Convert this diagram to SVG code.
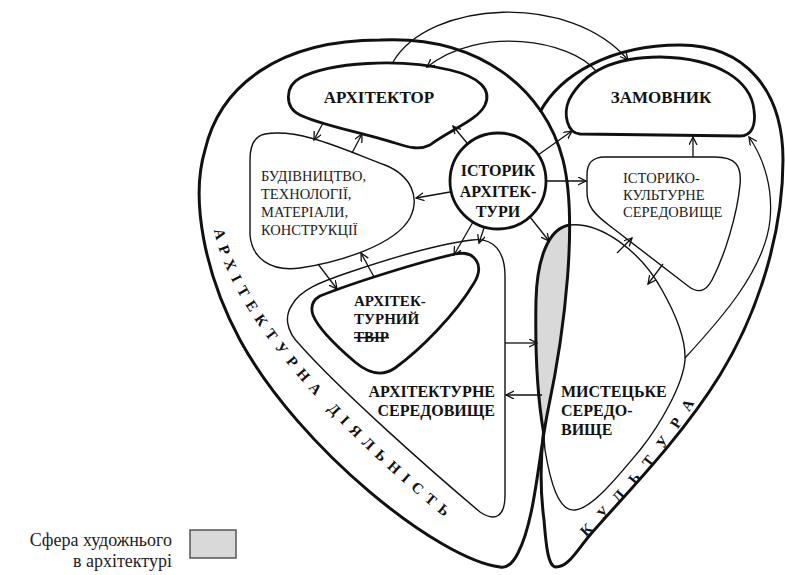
<svg xmlns="http://www.w3.org/2000/svg" width="785" height="575" viewBox="0 0 785 575">
<defs>
<style>
.thick{fill:none;stroke:#111;stroke-width:3;stroke-linejoin:round}
.node{fill:none;stroke:#111;stroke-width:2.8;stroke-linejoin:round}
.thin{fill:none;stroke:#111;stroke-width:1.4;stroke-linejoin:round}
.arr{fill:none;stroke:#111;stroke-width:1.3;marker-end:url(#ah)}
.b{font-weight:bold;fill:#111}
.r{fill:#222}
text{font-family:'Liberation Serif',serif}
</style>
<marker id="ah" markerUnits="userSpaceOnUse" markerWidth="10" markerHeight="10" refX="8" refY="4" orient="auto">
<path d="M0,0 L8,4 L0,8" fill="none" stroke="#111" stroke-width="1.3"/>
</marker>
<path id="tpArch" d="M 214,230 C 231,318 343,437 457,527"/>
<path id="tpCult" d="M 586,537 C 627,497 667,452 702,390"/>
</defs>
<rect width="785" height="575" fill="#fff"/>

<g id="art-sphere">
<path d="M 569.6,225 C 548,228 537,260 536,300 C 535,350 538,400 543.5,432 C 555,370 570,300 569.6,225 Z" fill="#d9d9d9" stroke="none"/>
</g>

<g id="lobe-architecture">
<path class="thick" d="M 500,567 C 440,560 300,450 240,340 C 205,275 190,200 205,150 C 220,85 280,40 380,40 C 480,35 545,90 563,160 C 578,220 565,330 548,410 C 538,460 535,520 518,553 C 512,565 505,568 500,567 Z"/>
<text class="b" font-size="15" letter-spacing="7"><textPath href="#tpArch">АРХІТЕКТУРНА ДІЯЛЬНІСТЬ</textPath></text>
</g>

<g id="lobe-culture">
<path class="thick" d="M 540,112 C 560,75 610,45 680,45 C 745,45 783,90 783,160 C 783,230 760,310 720,375 C 680,440 620,500 590,535 C 575,553 568,567 556,567 C 548,567 546,545 544,520 C 540,490 541,455 543.5,432 C 538,400 535,350 536,300 C 537,260 548,228 569.6,225"/>
<text class="b" font-size="15" letter-spacing="13.5"><textPath href="#tpCult">КУЛЬТУРА</textPath></text>
</g>

<g id="mystetske-seredovyshche">
<path class="thin" d="M 569.6,225 C 600,222 640,250 662,290 C 675,313 686,340 685,360 C 683,385 660,425 640,450 C 615,480 592,508 575,510 C 558,512 550,480 545,450 L 543.5,432"/>
<text class="b" font-size="16"><tspan x="561" y="397">МИСТЕЦЬКЕ</tspan><tspan x="561" y="416">СЕРЕДО-</tspan><tspan x="561" y="435">ВИЩЕ</tspan></text>
</g>

<g id="arkhitektor">
<path class="node" d="M 300,78 C 330,62 400,58 450,70 C 480,77 492,90 485,105 C 478,120 450,130 430,145 C 420,150 410,148 395,143 C 360,132 320,125 300,115 C 284,107 285,86 300,78 Z"/>
<text class="b" font-size="17" x="379" y="103" text-anchor="middle">АРХІТЕКТОР</text>
</g>

<g id="zamovnyk">
<path class="node" d="M 580,134 L 740,136 C 752,136 756,125 754,110 C 751,82 720,58 660,57 C 610,57 582,75 569,100 C 563,114 567,133 580,134 Z"/>
<text class="b" font-size="17" x="661" y="103" text-anchor="middle">ЗАМОВНИК</text>
</g>

<g id="budivnytstvo">
<path class="thin" d="M 265,134 C 300,128 345,150 385,165 C 412,176 420,198 410,218 C 395,245 340,262 300,268 C 270,272 252,258 250,235 L 250,160 C 250,145 255,136 265,134 Z"/>
<text class="r" font-size="14.5"><tspan x="261" y="181">БУДІВНИЦТВО,</tspan><tspan x="261" y="199">ТЕХНОЛОГІЇ,</tspan><tspan x="261" y="217">МАТЕРІАЛИ,</tspan><tspan x="261" y="235">КОНСТРУКЦІЇ</tspan></text>
</g>

<g id="istoryk">
<circle class="node" cx="498" cy="181" r="48" fill="#fff"/>
<text class="b" font-size="16" text-anchor="middle"><tspan x="498" y="176">ІСТОРИК</tspan><tspan x="498" y="197">АРХІТЕК-</tspan><tspan x="498" y="217">ТУРИ</tspan></text>
</g>

<g id="istoryko-kulturne">
<path class="thin" d="M 605,157 L 715,157 C 735,157 742,165 740,185 C 737,215 725,255 712,280 C 705,293 697,293 688,286 L 610,226 C 594,214 587,206 587,192 L 587,175 C 587,163 592,157 605,157 Z"/>
<text class="r" font-size="14.5"><tspan x="623" y="183">ІСТОРИКО-</tspan><tspan x="623" y="200">КУЛЬТУРНЕ</tspan><tspan x="623" y="217">СЕРЕДОВИЩЕ</tspan></text>
</g>

<g id="arkhitekturne-seredovyshche">
<path class="thin" d="M 292,305 C 300,290 320,282 350,272 C 400,255 440,244 472,240 C 494,237 505,252 505,276 L 505,495 C 505,517 495,522 480,512 C 430,470 340,390 300,345 C 285,330 285,315 292,305 Z"/>
<text class="b" font-size="16" text-anchor="end"><tspan x="495" y="397">АРХІТЕКТУРНЕ</tspan><tspan x="495" y="416">СЕРЕДОВИЩЕ</tspan></text>
</g>

<g id="arkhitekturnyi-tvir">
<path class="node" d="M 320,296 C 355,282 420,262 455,254 C 475,250 485,265 474,283 C 455,315 420,350 395,368 C 382,377 368,373 355,362 C 335,345 318,328 313,315 C 310,306 313,300 320,296 Z"/>
<text class="b" font-size="15"><tspan x="354" y="306">АРХІТЕК-</tspan><tspan x="354" y="324">ТУРНИЙ</tspan><tspan x="354" y="342" text-decoration="line-through">ТВІР</tspan></text>
</g>

<g id="connectors">
<path class="arr" d="M 393,62 C 430,0 570,-8 628,60"/>
<path class="arr" d="M 596,71 C 570,40 480,25 427,67"/>
<path class="arr" d="M 323,123 L 314,140"/>
<path class="arr" d="M 352,153 L 362,134"/>
<path class="arr" d="M 467,143 L 453,126"/>
<path class="arr" d="M 450,192 L 416,198"/>
<path class="arr" d="M 538,155 L 572,131"/>
<path class="arr" d="M 547,181 L 586,181"/>
<path class="arr" d="M 530,217 L 549,241"/>
<path class="arr" d="M 484,228 L 479,243"/>
<path class="arr" d="M 473,222 L 454,255"/>
<path class="arr" d="M 318,264 L 337,289"/>
<path class="arr" d="M 374,277 L 361,253"/>
<path class="arr" d="M 505,343 L 537,343"/>
<path class="arr" d="M 542,395 L 506,395"/>
<path class="arr" d="M 617,253 L 632,238"/>
<path class="arr" d="M 663,264 L 648,284"/>
<path class="arr" d="M 693,157 L 693,137"/>
<path class="arr" d="M 685,358 C 720,320 765,270 770,220 C 773,190 765,160 749,137"/>
</g>

<g id="legend">
<rect x="190" y="530" width="46" height="28" fill="#d9d9d9" stroke="#555" stroke-width="1.5"/>
<text class="r" font-size="18" text-anchor="end"><tspan x="172" y="546">Сфера художнього</tspan><tspan x="172" y="567">в архітектурі</tspan></text>
</g>
</svg>
